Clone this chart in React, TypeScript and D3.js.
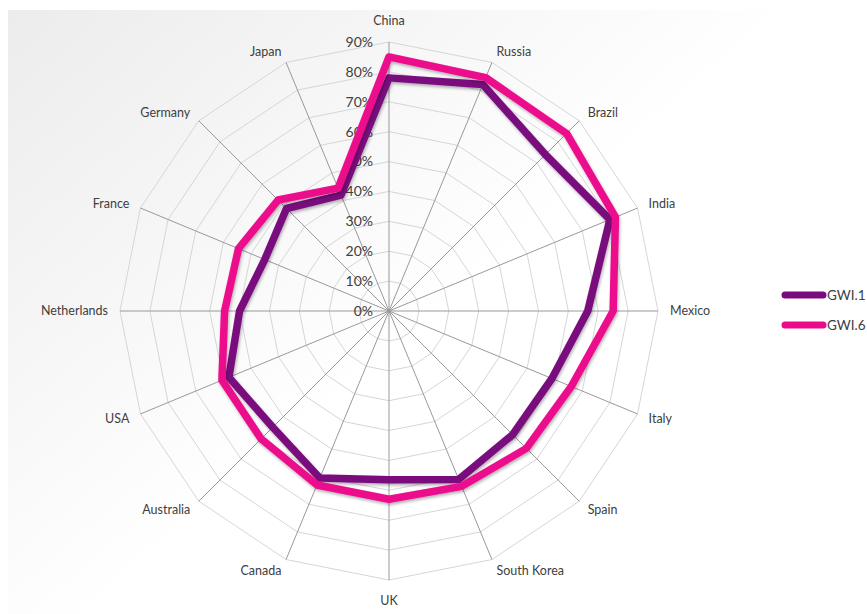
import React, { useEffect, useRef } from 'react';
import * as d3 from 'd3';

const categories = [
  'China', 'Russia', 'Brazil', 'India', 'Mexico', 'Italy', 'Spain', 'South Korea',
  'UK', 'Canada', 'Australia', 'USA', 'Netherlands', 'France', 'Germany', 'Japan',
];
const gwi1 = [0.78, 0.82, 0.74, 0.80, 0.665, 0.59, 0.585, 0.61, 0.565, 0.605, 0.55, 0.58, 0.50, 0.45, 0.485, 0.42];
const gwi6 = [0.85, 0.845, 0.84, 0.82, 0.75, 0.66, 0.65, 0.635, 0.63, 0.63, 0.605, 0.605, 0.55, 0.545, 0.525, 0.445];
const ticks = [0, 0.1, 0.2, 0.3, 0.4, 0.5, 0.6, 0.7, 0.8, 0.9];
const seriesNames = ['GWI.1', 'GWI.6'];
const seriesColors = ['#7a0a7e', '#ec0a8c'];

export default function App() {
  const svgRef = useRef<SVGSVGElement>(null);

  useEffect(() => {
    if (!svgRef.current) return;
    const svg = d3.select(svgRef.current);
    const width = 867;
    const height = 614;
    const cx = 389;
    const cy = 311;
    const font = 'Lato, "Open Sans", sans-serif';

    svg.selectAll('*').remove();
    svg.attr('width', width).attr('height', height).attr('viewBox', [0, 0, width, height]);

    const defs = svg.append('defs');
    const grad = defs.append('linearGradient')
      .attr('id', 'bg').attr('x1', 0).attr('y1', 0).attr('x2', 0.55).attr('y2', 0.45);
    grad.append('stop').attr('offset', '0%').attr('stop-color', '#ececec');
    grad.append('stop').attr('offset', '100%').attr('stop-color', '#ffffff');

    const shadow = defs.append('filter').attr('id', 'shadow')
      .attr('x', '-10%').attr('y', '-10%').attr('width', '120%').attr('height', '120%');
    shadow.append('feDropShadow')
      .attr('dx', 1).attr('dy', 2).attr('stdDeviation', 1.5)
      .attr('flood-color', '#000').attr('flood-opacity', 0.3);

    // chart area background
    svg.append('rect')
      .attr('x', 8).attr('y', 10).attr('width', width - 8).attr('height', height - 10)
      .attr('fill', 'url(#bg)');

    const r = d3.scaleLinear().domain([0, 0.9]).range([0, 269]);
    const angle = d3.scaleLinear().domain([0, categories.length]).range([0, 2 * Math.PI]);

    const point = (i: number, v: number): [number, number] => [
      cx + r(v) * Math.sin(angle(i)),
      cy - r(v) * Math.cos(angle(i)),
    ];

    const g = svg.append('g');

    // rings
    ticks.slice(1).forEach(t => {
      const pts = categories.map((_, i) => point(i, t));
      g.append('path')
        .attr('d', d3.line()(pts) + 'Z')
        .attr('fill', 'none')
        .attr('stroke', '#d6d6d6')
        .attr('stroke-width', 1);
    });

    // spokes
    categories.forEach((_, i) => {
      const [x, y] = point(i, 0.9);
      g.append('line')
        .attr('x1', cx).attr('y1', cy).attr('x2', x).attr('y2', y)
        .attr('stroke', '#999')
        .attr('stroke-width', 1);
    });

    // tick labels
    ticks.forEach(t => {
      g.append('text')
        .attr('x', cx - 16)
        .attr('y', cy - r(t))
        .attr('dy', '0.35em')
        .attr('text-anchor', 'end')
        .attr('font-family', font)
        .attr('font-size', 14)
        .attr('fill', '#404040')
        .text(d3.format('.0%')(t));
    });

    // category labels
    categories.forEach((c, i) => {
      const s = Math.sin(angle(i));
      const vertical = Math.abs(s) < 0.01;
      const [x, y] = point(i, vertical ? 0.9 * 290 / 269 : 0.9 * 281 / 269);
      g.append('text')
        .attr('x', x)
        .attr('y', y)
        .attr('dy', '0.35em')
        .attr('text-anchor', vertical ? 'middle' : s > 0 ? 'start' : 'end')
        .attr('font-family', font)
        .attr('font-size', 12.5)
        .attr('fill', '#404040')
        .text(c);
    });

    // series
    const line = d3.lineRadial<number>()
      .angle((_, i) => angle(i))
      .radius(d => r(d))
      .curve(d3.curveLinearClosed);

    [gwi1, gwi6].forEach((vals, k) => {
      g.append('path')
        .attr('transform', `translate(${cx},${cy})`)
        .attr('d', line(vals) as string)
        .attr('fill', 'none')
        .attr('stroke', seriesColors[k])
        .attr('stroke-width', 7.5)
        .attr('stroke-linejoin', 'round')
        .attr('filter', 'url(#shadow)');
    });

    // legend
    const legend = svg.append('g');
    seriesNames.forEach((name, k) => {
      const y = 295 + k * 30;
      legend.append('line')
        .attr('x1', 785).attr('x2', 823).attr('y1', y).attr('y2', y)
        .attr('stroke', seriesColors[k])
        .attr('stroke-width', 7)
        .attr('stroke-linecap', 'round');
      legend.append('text')
        .attr('x', 827).attr('y', y).attr('dy', '0.35em')
        .attr('font-family', font)
        .attr('font-size', 13.5)
        .attr('fill', '#404040')
        .text(name);
    });
  }, []);

  return (
    <div style={{ position: 'absolute', left: 0, top: 0 }}>
      <svg ref={svgRef} style={{ display: 'block' }} />
    </div>
  );
}
